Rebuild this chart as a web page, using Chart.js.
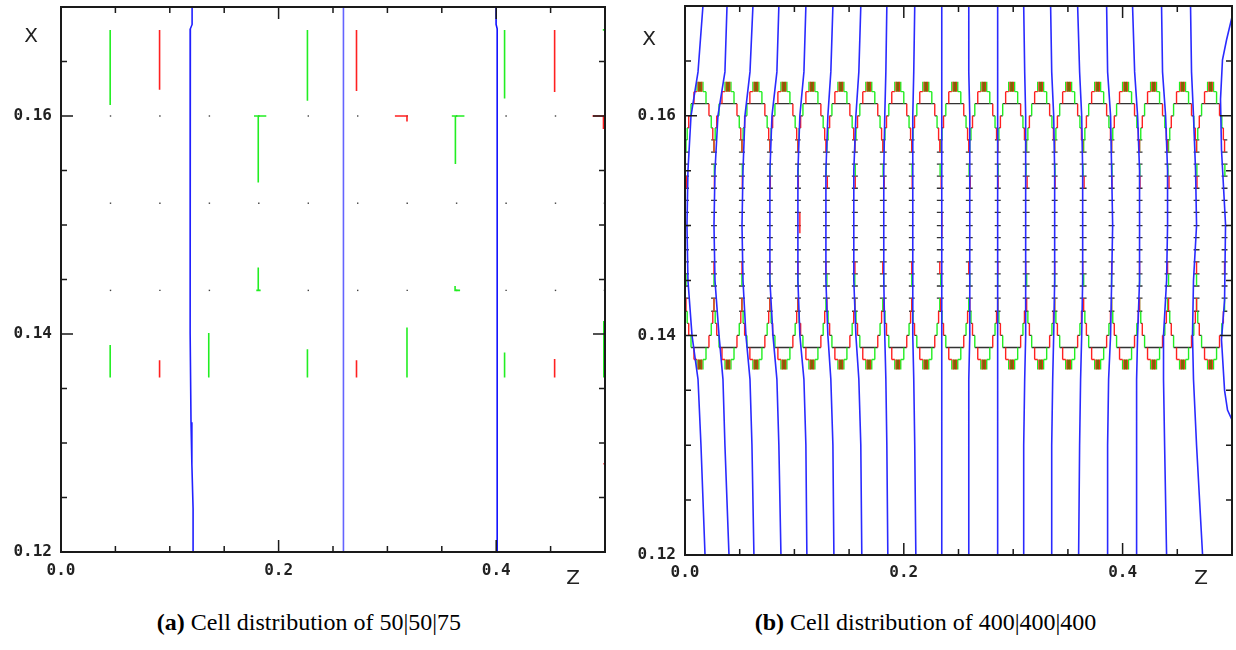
<!DOCTYPE html>
<html>
<head>
<meta charset="utf-8">
<script src="https://cdn.jsdelivr.net/npm/chart.js@4.4.1/dist/chart.umd.min.js"></script>
<style>
  body { margin: 0; background: #fff; width: 1236px; height: 650px; position: relative; overflow: hidden; }
  .box { position: absolute; top: 0; height: 600px; }
  #boxA { left: 0; width: 615px; }
  #boxB { left: 615px; width: 621px; }
  .cap { position: absolute; top: 609px; font-family: "Liberation Serif", serif; font-size: 24px; color: #000; text-align: center; }
  #capA { left: 0; width: 618px; }
  #capB { left: 615px; width: 621px; }
</style>
</head>
<body>
<div class="box" id="boxA"><canvas id="chartA"></canvas></div>
<div class="box" id="boxB"><canvas id="chartB"></canvas></div>
<div class="cap" id="capA"><b>(a)</b> Cell distribution of 50|50|75</div>
<div class="cap" id="capB"><b>(b)</b> Cell distribution of 400|400|400</div>
<script>
// axes: z horizontal, x vertical
const Z_LABELS = [0.0, 0.2, 0.4];
const X_LABELS = [0.12, 0.14, 0.16];
const Z_MINOR = [0, 0.05, 0.1, 0.15, 0.2, 0.25, 0.3, 0.35, 0.4, 0.45, 0.5];
const X_MINOR = [0.12, 0.125, 0.13, 0.135, 0.14, 0.145, 0.15, 0.155, 0.16, 0.165, 0.17];

// ---- (a) 50|50|75 ----
const a_blue1 = [[0.1205, 0.170], [0.1205, 0.1684], [0.1189, 0.1680], [0.1187, 0.1401], [0.1195, 0.1319], [0.1203, 0.1280], [0.1214, 0.1240], [0.1214, 0.120]];
const a_blue2 = [[0.2596, 0.170], [0.2596, 0.120]];
const a_blue3 = [[0.3999, 0.170], [0.3999, 0.1684], [0.4009, 0.1680], [0.4009, 0.120]];
const a_green = [
  [[0.0452, 0.1679], [0.0452, 0.1610]],
  [[0.2265, 0.1679], [0.2265, 0.1614]],
  [[0.4077, 0.1679], [0.4077, 0.1616]],
  [[0.4980, 0.1679], [0.5, 0.1679]],
  [[0.1774, 0.1600], [0.1887, 0.1600]], [[0.1813, 0.1600], [0.1813, 0.1539]],
  [[0.3592, 0.1600], [0.3708, 0.1600]], [[0.3625, 0.1600], [0.3625, 0.1556]],
  [[0.1813, 0.1461], [0.1813, 0.1440]], [[0.1795, 0.1440], [0.1835, 0.1440]],
  [[0.3622, 0.1444], [0.3622, 0.1440], [0.3668, 0.1440]],
  [[0.0452, 0.1390], [0.0452, 0.1360]],
  [[0.1358, 0.1401], [0.1358, 0.1360]],
  [[0.2265, 0.1386], [0.2265, 0.1360]],
  [[0.3180, 0.1406], [0.3180, 0.1360]],
  [[0.4077, 0.1383], [0.4077, 0.1360]],
  [[0.4989, 0.1412], [0.4989, 0.1360]]
];
const a_red = [
  [[0.0906, 0.1679], [0.0906, 0.1624]],
  [[0.2716, 0.1679], [0.2716, 0.1623]],
  [[0.4537, 0.1679], [0.4537, 0.1622]],
  [[0.3069, 0.1600], [0.3180, 0.1600], [0.3180, 0.1595]],
  [[0.4885, 0.1600], [0.4986, 0.1600], [0.4986, 0.1588]],
  [[0.0906, 0.1376], [0.0906, 0.1360]],
  [[0.2716, 0.1376], [0.2716, 0.1360]],
  [[0.4537, 0.1377], [0.4537, 0.1360]],
  [[0.4985, 0.1281], [0.5, 0.1281]]
];
const a_dotZ = [0.0455, 0.0909, 0.1364, 0.1818, 0.2273, 0.2727, 0.3182, 0.3636, 0.4091, 0.4545, 0.4995];
const a_dotX = [0.160, 0.152, 0.144];

// ---- (b) 400|400|400 ----
const b_lensZ = [0.0137, 0.0393, 0.0648, 0.0904, 0.1160, 0.1425, 0.1680, 0.1945, 0.2201, 0.2466,
                 0.2731, 0.2986, 0.3251, 0.3507, 0.3772, 0.4027, 0.4283, 0.4548, 0.4804];
const b_archTop = [0.1631, 0.1622, 0.1611, 0.1600, 0.1589, 0.1578];
const b_archBot = [0.1369, 0.1378, 0.1389, 0.1400, 0.1411, 0.1422];
const b_archHalf = [0.0027, 0.0055, 0.0082, 0.0103, 0.0117, 0.0128];
const b_midRows = [0.1567, 0.1556, 0.1545, 0.1534, 0.1523, 0.1512, 0.1500, 0.1489, 0.1478, 0.1467, 0.1456, 0.1445, 0.1434];
const b_midTicks = [ // dz, x from, x to, colour
  [-0.0128, 0.1578, 0.1567, 'g'], [0.0128, 0.1578, 0.1567, 'r'],
  [-0.0124, 0.1545, 0.1534, 'r'], [0.0131, 0.1556, 0.1545, 'g'],
  [-0.0128, 0.1456, 0.1445, 'g'], [0.0128, 0.1467, 0.1456, 'r'],
  [-0.0128, 0.1434, 0.1422, 'r'], [0.0128, 0.1434, 0.1422, 'g']
];
const b_redBars = [[[0.1050, 0.1512], [0.1050, 0.1493]], [[0.2347, 0.1512], [0.2347, 0.1490]]];
const b_blueLevels = [0.170, 0.164, 0.160, 0.155, 0.150, 0.145, 0.140, 0.136, 0.130, 0.120];
const b_blue = [
  [0.0164, 0.0119, 0.0055, 0.0027, 0.0018, 0.0027, 0.0064, 0.0119, 0.0146, 0.0183],
  [0.0384, 0.0365, 0.0301, 0.0274, 0.0265, 0.0274, 0.0311, 0.0347, 0.0365, 0.0402],
  [0.0621, 0.0594, 0.0548, 0.0530, 0.0521, 0.0530, 0.0557, 0.0594, 0.0612, 0.0630],
  [0.0858, 0.0840, 0.0795, 0.0776, 0.0776, 0.0776, 0.0804, 0.0840, 0.0858, 0.0877],
  [0.1105, 0.1087, 0.1050, 0.1032, 0.1032, 0.1032, 0.1050, 0.1087, 0.1105, 0.1114],
  [0.1352, 0.1333, 0.1306, 0.1288, 0.1288, 0.1288, 0.1306, 0.1333, 0.1352, 0.1361],
  [0.1607, 0.1589, 0.1562, 0.1543, 0.1543, 0.1543, 0.1562, 0.1589, 0.1607, 0.1616],
  [0.1845, 0.1836, 0.1826, 0.1817, 0.1817, 0.1817, 0.1826, 0.1836, 0.1845, 0.1854],
  [0.2100, 0.2091, 0.2082, 0.2082, 0.2082, 0.2082, 0.2082, 0.2091, 0.2100, 0.2110],
  [0.2347, 0.2347, 0.2347, 0.2347, 0.2347, 0.2347, 0.2347, 0.2347, 0.2347, 0.2347],
  [0.2594, 0.2594, 0.2603, 0.2603, 0.2603, 0.2603, 0.2603, 0.2594, 0.2594, 0.2594],
  [0.2858, 0.2858, 0.2858, 0.2858, 0.2858, 0.2858, 0.2858, 0.2858, 0.2858, 0.2858],
  [0.3096, 0.3105, 0.3114, 0.3114, 0.3114, 0.3114, 0.3114, 0.3105, 0.3096, 0.3096],
  [0.3342, 0.3352, 0.3370, 0.3379, 0.3379, 0.3379, 0.3370, 0.3361, 0.3352, 0.3352],
  [0.3589, 0.3607, 0.3626, 0.3635, 0.3635, 0.3635, 0.3626, 0.3616, 0.3607, 0.3598],
  [0.3854, 0.3863, 0.3890, 0.3900, 0.3909, 0.3900, 0.3890, 0.3872, 0.3863, 0.3863],
  [0.4091, 0.4110, 0.4137, 0.4155, 0.4155, 0.4155, 0.4137, 0.4128, 0.4128, 0.4128],
  [0.4356, 0.4365, 0.4393, 0.4411, 0.4411, 0.4402, 0.4374, 0.4374, 0.4384, 0.4402],
  [0.4621, 0.4630, 0.4648, 0.4667, 0.4676, 0.4648, 0.4639, 0.4648, 0.4676, 0.4731]
];
const b_lastBlueZ = [0.5005, 0.4950, 0.4913, 0.4895, 0.4904, 0.4941, 0.4932, 0.4904, 0.4932, 0.4959, 0.5014];
const b_lastBlueX = [0.1692, 0.1669, 0.1651, 0.1615, 0.1569, 0.1501, 0.1432, 0.1396, 0.1350, 0.1332, 0.1320];

// polylines -> one dataset, gaps between pieces
function flat(lines) {
  const out = [];
  lines.forEach(pl => {
    pl.forEach(p => out.push({x: p[0], y: p[1]}));
    out.push({x: null, y: null});
  });
  return out;
}
function lineSet(lines, color, width, order) {
  return {data: flat(lines), borderColor: color, borderWidth: width, showLine: true,
          pointRadius: 0, order: order, spanGaps: false, tension: 0};
}

// lens outlines of panel (b)
const bBlack = [], bRed = [], bGreen = [], bOlive = [];
const H = b_archHalf;
b_lensZ.forEach(c => {
  [b_archTop, b_archBot].forEach(R => {
    bOlive.push([[c, R[0]], [c, R[1]]]);
    bRed.push([[c - 0.0015, R[0]], [c - 0.0015, R[1]]], [[c + 0.0015, R[0]], [c + 0.0015, R[1]]]);
    bGreen.push([[c - H[0], R[0]], [c - H[0], R[1]]], [[c + H[0], R[0]], [c + H[0], R[1]]]);
    bRed.push([[c - H[1], R[1]], [c - H[0], R[1]]]);
    bGreen.push([[c + H[0], R[1]], [c + H[1], R[1]]]);
    bBlack.push([[c - H[2], R[2]], [c + H[2], R[2]]]);
    for (let k = 1; k <= 4; k++) {
      const L = k % 2 ? bRed : bGreen, Rt = k % 2 ? bGreen : bRed;
      L.push([[c - H[k], R[k]], [c - H[k], R[k + 1]]]);
      Rt.push([[c + H[k], R[k]], [c + H[k], R[k + 1]]]);
    }
    for (let k = 3; k <= 4; k++) {
      bBlack.push([[c - H[k], R[k]], [c - H[k - 1], R[k]]], [[c + H[k - 1], R[k]], [c + H[k], R[k]]]);
    }
    bBlack.push([[c - H[5] - 0.0025, R[5]], [c - H[4], R[5]]], [[c + H[4], R[5]], [c + H[5] + 0.0025, R[5]]]);
  });
  b_midRows.forEach(r => {
    bBlack.push([[c - H[5] - 0.0027, r], [c - H[5] + 0.0027, r]], [[c + H[5] - 0.0027, r], [c + H[5] + 0.0027, r]]);
  });
  b_midTicks.forEach(t => (t[3] === 'r' ? bRed : bGreen).push([[c + t[0], t[1]], [c + t[0], t[2]]]));
});
b_redBars.forEach(s => bRed.push(s));
const bBlue = b_blue.map(zs => zs.map((z, i) => [z, b_blueLevels[i]]));
bBlue.push(b_lastBlueZ.map((z, i) => [z, b_lastBlueX[i]]));

// frame with inward ticks + axis letters
const frameTicks = {
  id: 'frameTicks',
  afterDatasetsDraw(chart, args, o) {
    const {ctx, chartArea: a, scales: {x, y}} = chart;
    ctx.save();
    ctx.strokeStyle = '#1a1a1a';
    ctx.lineWidth = 2;
    ctx.strokeRect(a.left, a.top, a.right - a.left, a.bottom - a.top);
    ctx.lineWidth = 1.5;
    ctx.beginPath();
    Z_MINOR.forEach(v => {
      const p = x.getPixelForValue(v), l = Z_LABELS.includes(v) ? 12 : 6;
      ctx.moveTo(p, a.bottom); ctx.lineTo(p, a.bottom - l);
      ctx.moveTo(p, a.top); ctx.lineTo(p, a.top + l);
    });
    X_MINOR.forEach(v => {
      const p = y.getPixelForValue(v), l = X_LABELS.includes(v) ? 12 : 6;
      ctx.moveTo(a.left, p); ctx.lineTo(a.left + l, p);
      ctx.moveTo(a.right, p); ctx.lineTo(a.right - l, p);
    });
    ctx.stroke();
    ctx.fillStyle = '#222';
    ctx.font = '20px "DejaVu Sans"';
    ctx.textAlign = 'center';
    ctx.textBaseline = 'middle';
    ctx.fillText('X', a.left + o.xPos[0], a.top + o.xPos[1]);
    ctx.fillText('Z', a.right + o.zPos[0], a.bottom + o.zPos[1]);
    ctx.restore();
  }
};

function makeScales(yWidth, xHeight, xPad) {
  const tickFont = {family: 'DejaVu Sans Mono', size: 16, weight: 'bold'};
  return {
    x: {type: 'linear', min: 0, max: 0.5,
        afterBuildTicks: s => { s.ticks = Z_LABELS.map(v => ({value: v})); },
        afterFit: s => { s.height = xHeight; s.paddingLeft = 0; s.paddingRight = 0; },
        grid: {display: false, drawTicks: false}, border: {display: false},
        ticks: {callback: v => v.toFixed(1), font: tickFont, color: '#222', padding: xPad, maxRotation: 0, autoSkip: false}},
    y: {type: 'linear', min: 0.12, max: 0.17,
        afterBuildTicks: s => { s.ticks = X_LABELS.map(v => ({value: v})); },
        afterFit: s => { s.width = yWidth; s.paddingTop = 0; s.paddingBottom = 0; },
        grid: {display: false, drawTicks: false}, border: {display: false},
        ticks: {callback: v => v.toFixed(2), font: tickFont, color: '#222', padding: 9, autoSkip: false}}
  };
}

const baseOptions = (pad, scales, letters) => ({
  responsive: true, maintainAspectRatio: false, animation: false,
  layout: {padding: pad},
  scales: scales,
  plugins: {legend: {display: false}, tooltip: {enabled: false}, frameTicks: letters}
});

const dots = [];
a_dotX.forEach(xv => a_dotZ.forEach(zv => dots.push({x: zv, y: xv})));

new Chart(document.getElementById('chartA'), {
  type: 'scatter',
  data: {datasets: [
    lineSet([a_blue1], '#2020ff', 1.6, 0),
    lineSet([a_blue2], '#6464ff', 1.6, 0),
    lineSet([a_blue3], '#1010ff', 1.6, 0),
    lineSet(a_green, '#22ee22', 1.6, 1),
    lineSet(a_red, '#ff2020', 1.6, 1),
    {data: dots, pointRadius: 1, pointStyle: 'rect', backgroundColor: '#444', borderWidth: 0, order: 2}
  ]},
  options: baseOptions({top: 7, right: 10, left: 0, bottom: 0}, makeScales(61, 48, 9), {xPos: [-30, 30], zPos: [-32, 27]}),
  plugins: [frameTicks]
});

new Chart(document.getElementById('chartB'), {
  type: 'scatter',
  data: {datasets: [
    lineSet(bBlue, '#2a2aff', 1.6, 0),
    lineSet(bOlive, '#7a6a00', 3, 1),
    lineSet(bRed, '#ff2020', 1.4, 2),
    lineSet(bGreen, '#22ee22', 1.4, 2),
    lineSet(bBlack, '#333', 1.3, 3)
  ]},
  options: baseOptions({top: 6, right: 4, left: 0, bottom: 0}, makeScales(70, 45, 8), {xPos: [-36, 34], zPos: [-31, 24]}),
  plugins: [frameTicks]
});
</script>
</body>
</html>
